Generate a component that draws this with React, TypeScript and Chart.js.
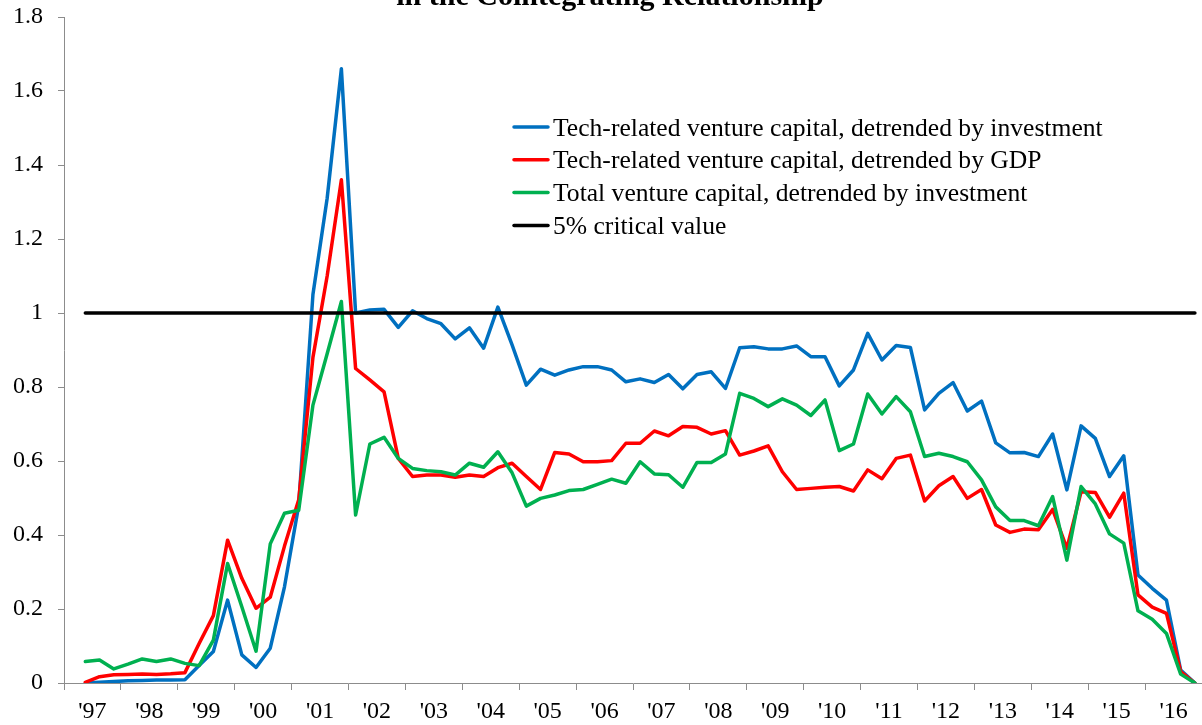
import React, { useEffect, useRef } from 'react';
import { Chart, registerables } from 'chart.js';

Chart.register(...registerables);

const titleText = 'in the Cointegrating Relationship';

const yearLabels = ["'97", "'98", "'99", "'00", "'01", "'02", "'03", "'04", "'05", "'06", "'07", "'08", "'09", "'10", "'11", "'12", "'13", "'14", "'15", "'16"];
const years = [1997, 1998, 1999, 2000, 2001, 2002, 2003, 2004, 2005, 2006, 2007, 2008, 2009, 2010, 2011, 2012, 2013, 2014, 2015, 2016];
const quarters = ['Q1', 'Q2', 'Q3', 'Q4'];
const quarterLabels: string[] = [];
years.forEach((y) => quarters.forEach((q) => quarterLabels.push(`${y}${q}`)));

const seriesLabels = [
  'Tech-related venture capital, detrended by investment',
  'Tech-related venture capital, detrended by GDP',
  'Total venture capital, detrended by investment',
  '5% critical value',
];

const techByInvestment = [
  null, 0.000, 0.002, 0.004, 0.006, 0.007, 0.008, 0.008, 0.009, 0.047,
  0.085, 0.224, 0.076, 0.042, 0.094, 0.26, 0.48, 1.05, 1.31, 1.66,
  1.00, 1.008, 1.01, 0.961, 1.006, 0.985, 0.971, 0.93, 0.96, 0.905,
  1.016, 0.914, 0.805, 0.848, 0.832, 0.846, 0.855, 0.855, 0.846, 0.814,
  0.822, 0.812, 0.834, 0.795, 0.834, 0.841, 0.796, 0.906, 0.909, 0.903,
  0.903, 0.911, 0.882, 0.882, 0.803, 0.846, 0.945, 0.873, 0.912, 0.907,
  0.738, 0.783, 0.812, 0.735, 0.762, 0.649, 0.622, 0.623, 0.612, 0.673,
  0.522, 0.695, 0.661, 0.558, 0.614, 0.292, 0.256, 0.224, 0.035, 0.0,
];

const techByGDP = [
  null, 0.002, 0.017, 0.022, 0.023, 0.024, 0.023, 0.025, 0.028, 0.107,
  0.182, 0.386, 0.283, 0.202, 0.232, 0.37, 0.495, 0.88, 1.10, 1.36,
  0.85, 0.819, 0.787, 0.607, 0.558, 0.562, 0.562, 0.556, 0.562, 0.558,
  0.582, 0.594, 0.558, 0.523, 0.623, 0.619, 0.598, 0.598, 0.601, 0.648,
  0.648, 0.681, 0.668, 0.693, 0.691, 0.673, 0.682, 0.616, 0.627, 0.641,
  0.571, 0.523, 0.526, 0.529, 0.531, 0.519, 0.576, 0.552, 0.607, 0.616,
  0.492, 0.533, 0.558, 0.499, 0.523, 0.427, 0.407, 0.416, 0.414, 0.469,
  0.364, 0.517, 0.515, 0.448, 0.513, 0.238, 0.205, 0.188, 0.031, 0.0,
];

const totalByInvestment = [
  null, 0.058, 0.062, 0.038, 0.051, 0.065, 0.058, 0.065, 0.053, 0.047,
  0.116, 0.323, 0.206, 0.086, 0.376, 0.459, 0.467, 0.751, 0.89, 1.031,
  0.454, 0.646, 0.664, 0.607, 0.580, 0.574, 0.571, 0.562, 0.594, 0.583,
  0.625, 0.568, 0.478, 0.499, 0.508, 0.520, 0.523, 0.537, 0.551, 0.540,
  0.598, 0.565, 0.563, 0.529, 0.596, 0.596, 0.619, 0.783, 0.769, 0.747,
  0.768, 0.751, 0.723, 0.765, 0.628, 0.646, 0.781, 0.727, 0.774, 0.733,
  0.612, 0.621, 0.612, 0.598, 0.549, 0.476, 0.439, 0.439, 0.425, 0.504,
  0.332, 0.531, 0.484, 0.403, 0.378, 0.195, 0.172, 0.134, 0.024, 0.0,
];

const criticalValue = [
  null, 1, 1, 1, 1, 1, 1, 1, 1, 1,
  1, 1, 1, 1, 1, 1, 1, 1, 1, 1,
  1, 1, 1, 1, 1, 1, 1, 1, 1, 1,
  1, 1, 1, 1, 1, 1, 1, 1, 1, 1,
  1, 1, 1, 1, 1, 1, 1, 1, 1, 1,
  1, 1, 1, 1, 1, 1, 1, 1, 1, 1,
  1, 1, 1, 1, 1, 1, 1, 1, 1, 1,
  1, 1, 1, 1, 1, 1, 1, 1, 1, 1,
];

const FONT = "'Liberation Serif', 'Times New Roman', Times, serif";
const AXIS_GRAY = '#8c8c8c';
const COLORS = ['#0070C0', '#FF0000', '#00B050', '#000000'];

const insideLegend = {
  id: 'insideLegend',
  afterDraw(chart: any) {
    const { ctx, chartArea } = chart;
    ctx.save();
    ctx.font = `25.6px ${FONT}`;
    ctx.textBaseline = 'alphabetic';
    ctx.textAlign = 'left';
    chart.data.datasets.forEach((ds: any, i: number) => {
      const y = chartArea.top + 110 + i * 32.8;
      ctx.strokeStyle = ds.borderColor;
      ctx.lineWidth = 3.5;
      ctx.lineCap = 'round';
      ctx.beginPath();
      ctx.moveTo(chartArea.left + 450, y);
      ctx.lineTo(chartArea.left + 484, y);
      ctx.stroke();
      ctx.fillStyle = '#000';
      ctx.fillText(ds.label, chartArea.left + 489, y + 8.5);
    });
    ctx.restore();
  },
};

export default function App() {
  const ref = useRef<HTMLCanvasElement | null>(null);

  useEffect(() => {
    if (!ref.current) return;
    const seriesData = [techByInvestment, techByGDP, totalByInvestment, criticalValue];
    const chart = new Chart(ref.current, {
      type: 'line',
      data: {
        labels: quarterLabels,
        datasets: seriesData.map((d, i) => ({
          label: seriesLabels[i],
          data: d,
          borderColor: COLORS[i],
          backgroundColor: COLORS[i],
          borderWidth: 3.5,
          pointRadius: 0,
          tension: 0,
          fill: false,
          spanGaps: false,
          borderJoinStyle: 'round',
          borderCapStyle: 'round',
          xAxisID: 'x',
          yAxisID: 'y',
          order: 4 - i,
        })),
      },
      options: {
        animation: false,
        responsive: true,
        maintainAspectRatio: false,
        devicePixelRatio: 1,
        layout: { padding: 0 },
        plugins: {
          legend: { display: false },
          tooltip: { enabled: false },
          title: {
            display: true,
            text: titleText,
            color: '#000',
            font: { family: FONT, size: 30, weight: 'bold', lineHeight: 1.2 },
            padding: { top: 0, bottom: 2 },
          },
        },
        scales: {
          x: {
            type: 'category',
            offset: true,
            display: false,
          },
          xYear: {
            type: 'category',
            labels: yearLabels,
            position: 'bottom',
            offset: true,
            grid: {
              offset: true,
              drawOnChartArea: false,
              drawTicks: true,
              tickLength: 7,
              color: AXIS_GRAY,
              lineWidth: 1,
            },
            border: { color: AXIS_GRAY, width: 1 },
            ticks: {
              color: '#000',
              font: { family: FONT, size: 24 },
              padding: 7,
              maxRotation: 0,
              autoSkip: false,
            },
            afterFit: (s: any) => {
              s.height = 42;
            },
          },
          y: {
            min: 0,
            max: 1.8,
            ticks: {
              stepSize: 0.2,
              color: '#000',
              font: { family: FONT, size: 24 },
              padding: 15,
              callback: (v: any) => `${parseFloat(Number(v).toFixed(1))}`,
            },
            grid: {
              drawOnChartArea: false,
              drawTicks: true,
              tickLength: 6,
              color: AXIS_GRAY,
            },
            border: { color: AXIS_GRAY, width: 1 },
            afterFit: (s: any) => {
              s.width = 64;
            },
          },
          yPad: {
            type: 'linear',
            position: 'right',
            grid: { display: false, drawTicks: false },
            border: { display: false },
            ticks: { display: false },
            afterFit: (s: any) => {
              s.width = 18;
            },
          },
        },
      },
      plugins: [insideLegend],
    } as any);
    return () => chart.destroy();
  }, []);

  return (
    <div style={{ position: 'fixed', left: 0, top: -21, width: 1220, height: 746, background: '#fff' }}>
      <canvas ref={ref} />
    </div>
  );
}
